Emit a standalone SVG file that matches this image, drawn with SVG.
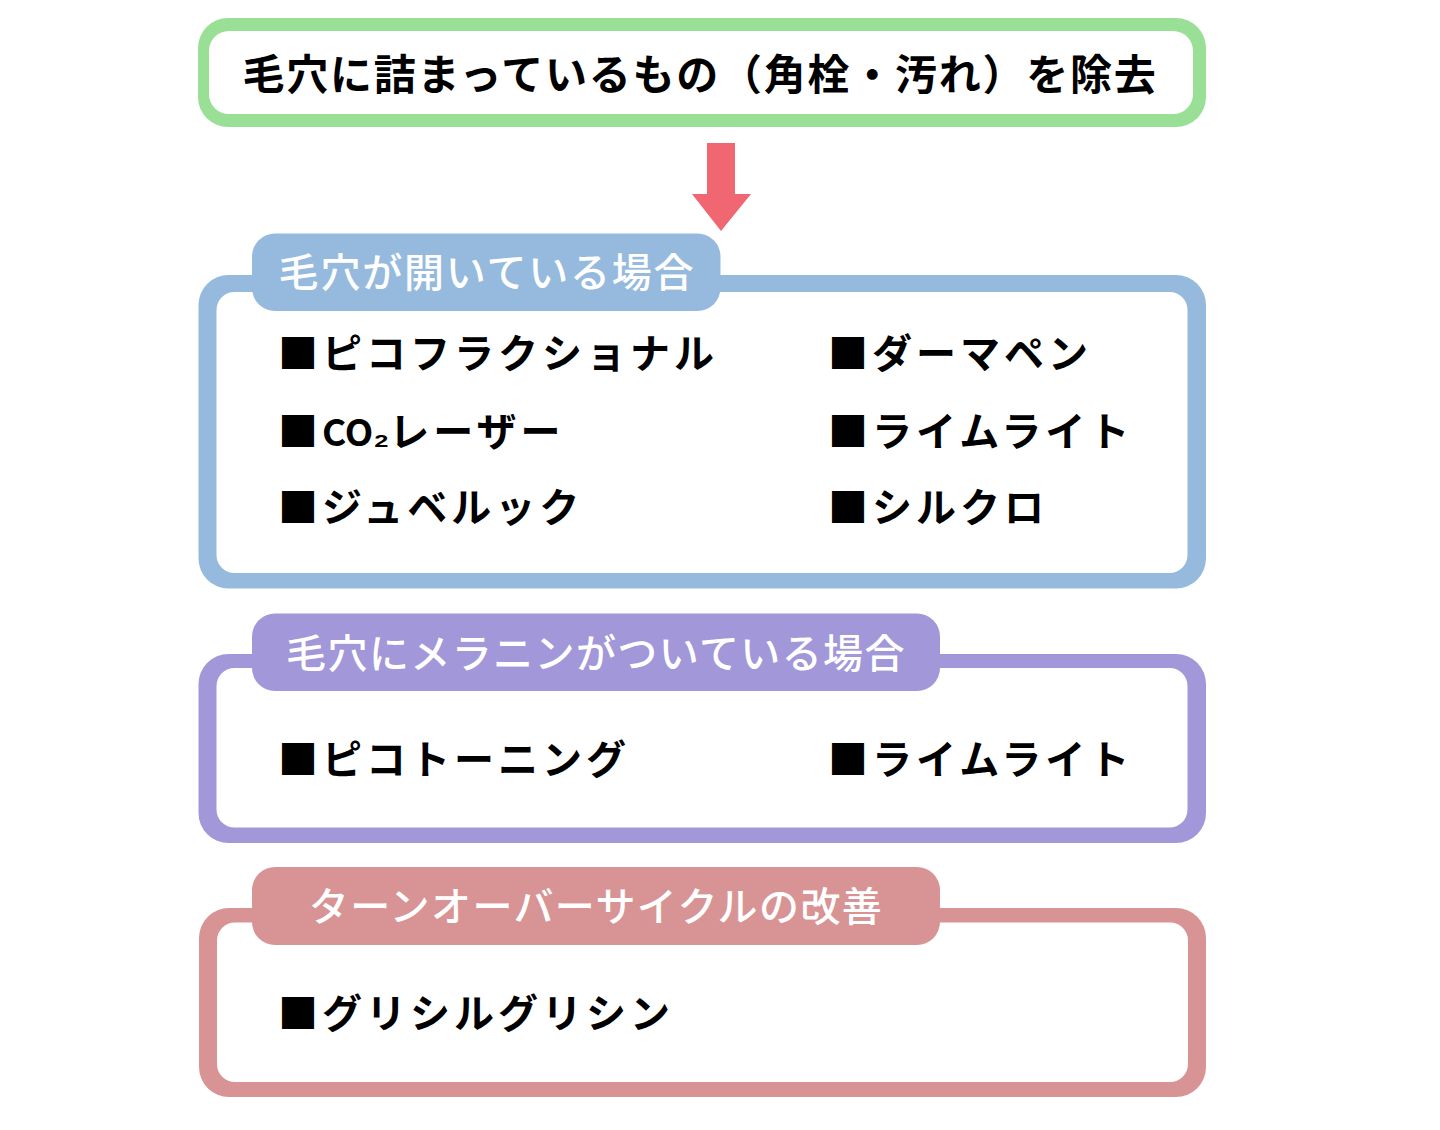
<svg xmlns="http://www.w3.org/2000/svg" width="1440" height="1130" viewBox="0 0 1440 1130">
<style>
.title{font-family:"Noto Sans CJK JP","Noto Sans CJK SC",sans-serif;font-size:42px;font-weight:700;fill:#000;letter-spacing:1.75px}
.head{font-family:"Noto Sans CJK JP","Noto Sans CJK SC",sans-serif;font-size:40px;font-weight:500;fill:#fff}
.item{font-family:"Noto Sans CJK JP","Noto Sans CJK SC",sans-serif;font-size:40px;font-weight:700;fill:#000;letter-spacing:4px}
.white{fill:#fff}
.green{fill:#99e096}
.blue{fill:#95badd}
.purple{fill:#a197d9}
.red{fill:#d89494}
</style>
<rect width="1440" height="1130" fill="#fff"/>
<g id="title-node">
<rect class="green" x="198" y="18" width="1008" height="109" rx="30"/>
<rect class="white" x="209" y="31" width="984" height="83" rx="20"/>
<text class="title" x="700" y="90" text-anchor="middle">毛穴に詰まっているもの（角栓・汚れ）を除去</text>
</g>
<g id="connectors">
<polygon points="707,143 735,143 735,194 751,194 721,231 692,194 707,194" fill="#f06771"/>
</g>
<g id="pores-open">
<rect class="blue" x="198.5" y="275" width="1007.5" height="313.5" rx="30"/>
<rect class="white" x="216.5" y="292" width="971" height="281" rx="18"/>
<rect class="blue" x="252" y="233.5" width="468.5" height="77.5" rx="23"/>
<text class="head" x="487" y="287" text-anchor="middle" letter-spacing="1.8">毛穴が開いている場合</text>
<text class="item" x="278" y="368" letter-spacing="1.5">■ピコフラクショナル</text>
<text class="item" x="278" y="446">■<tspan letter-spacing="0" font-size="37">CO</tspan><tspan letter-spacing="0" font-size="36">₂</tspan><tspan>レーザー</tspan></text>
<text class="item" x="278" y="522">■ジュベルック</text>
<text class="item" x="828" y="368">■ダーマペン</text>
<text class="item" x="828" y="446">■ライムライト</text>
<text class="item" x="828" y="522">■シルクロ</text>
</g>
<g id="melanin">
<rect class="purple" x="198.5" y="654" width="1007.5" height="189" rx="30"/>
<rect class="white" x="216.5" y="668" width="971" height="159.5" rx="18"/>
<rect class="purple" x="252" y="613.5" width="688" height="77.5" rx="23"/>
<text class="head" x="596" y="668" text-anchor="middle" letter-spacing="1.4">毛穴にメラニンがついている場合</text>
<text class="item" x="278" y="774">■ピコトーニング</text>
<text class="item" x="828" y="774">■ライムライト</text>
</g>
<g id="turnover">
<rect class="red" x="199" y="908" width="1007" height="189" rx="30"/>
<rect class="white" x="217" y="922.5" width="971" height="159.5" rx="18"/>
<rect class="red" x="252" y="867" width="688" height="78" rx="23"/>
<text class="head" x="596" y="921" text-anchor="middle" letter-spacing="1.4">ターンオーバーサイクルの改善</text>
<text class="item" x="278" y="1028">■グリシルグリシン</text>
</g>
</svg>
